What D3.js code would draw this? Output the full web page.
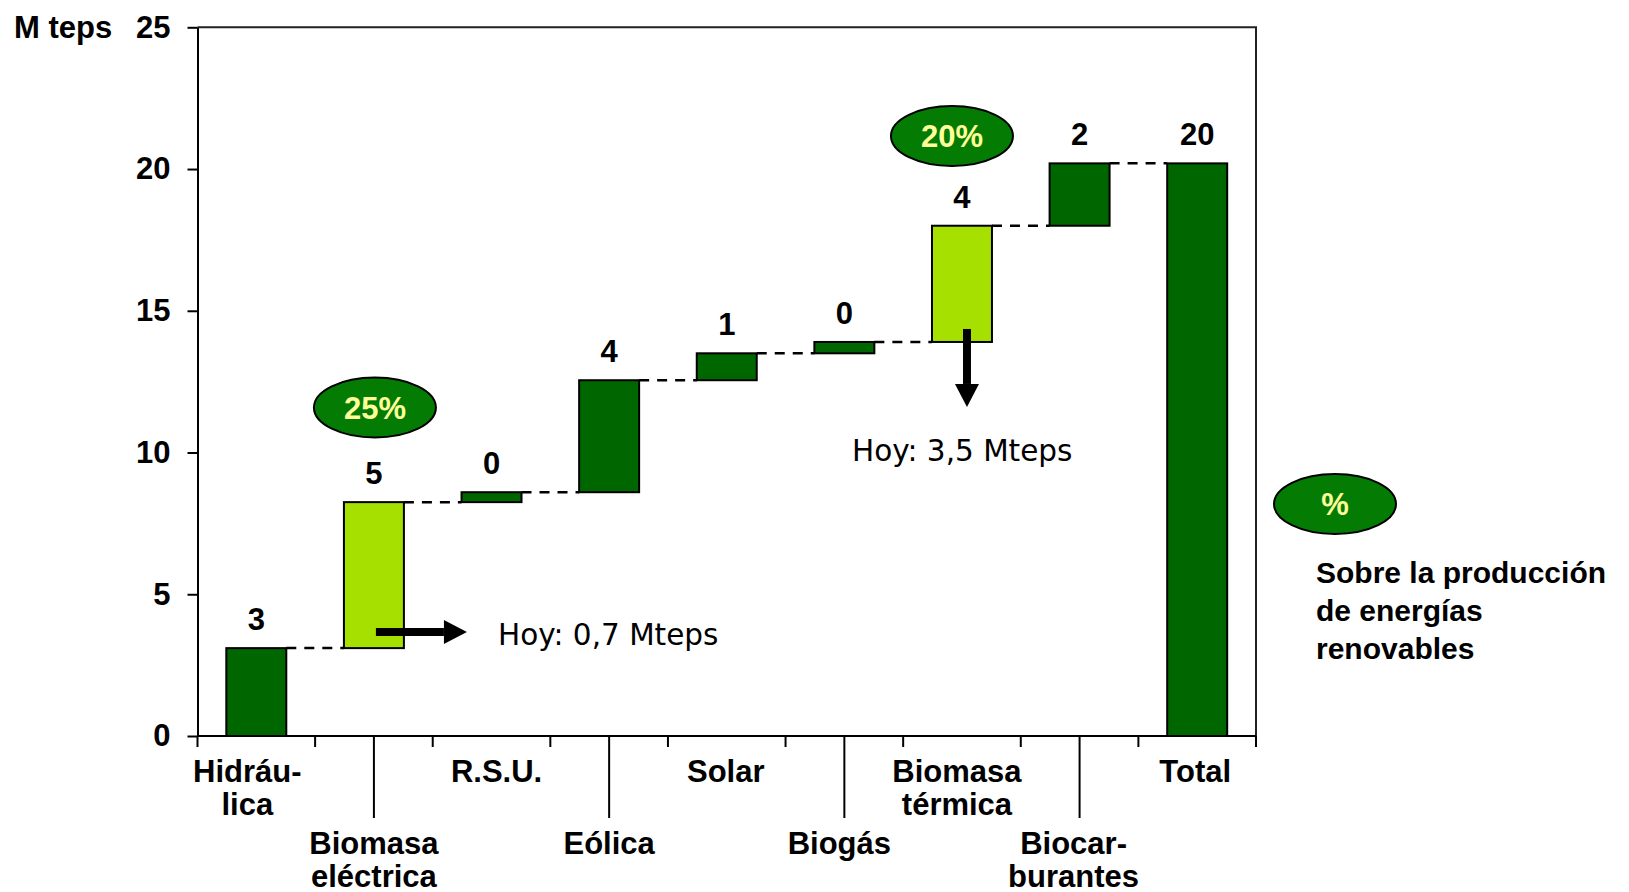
<!DOCTYPE html>
<html>
<head>
<meta charset="utf-8">
<script src="https://cdn.jsdelivr.net/npm/d3@7"></script>
<style>
  body { margin: 0; background: #fff; }
  svg { display: block; }
  .bold { font-family: "Liberation Sans", Arial, sans-serif; font-weight: bold; }
  .note { font-family: "DejaVu Sans", Verdana, sans-serif; }
</style>
</head>
<body>
<script>
// data
var categories = ["Hidráulica", "Biomasa eléctrica", "R.S.U.", "Eólica", "Solar",
                  "Biogás", "Biomasa térmica", "Biocarburantes", "Total"];
var labelLines = [["Hidráu-", "lica"], ["Biomasa", "eléctrica"], ["R.S.U."], ["Eólica"],
                  ["Solar"], ["Biogás"], ["Biomasa", "térmica"], ["Biocar-", "burantes"], ["Total"]];
var increments = [3.1, 5.15, 0.35, 3.95, 0.95, 0.4, 4.1, 2.2];
var valueLabels = ["3", "5", "0", "4", "1", "0", "4", "2", "20"];
var highlighted = ["Biomasa eléctrica", "Biomasa térmica"];
var yTicks = [0, 5, 10, 15, 20, 25];
var shares = ["25%", "20%", "%"];
var todayNotes = ["Hoy: 0,7 Mteps", "Hoy: 3,5 Mteps"];
var shareNote = ["Sobre la producción", "de energías", "renovables"];

// note: "top" is taken by window.top, so plot edges get a prefix
var width = 1629, height = 892,
    plotLeft = 197.5, plotRight = 1256, plotTop = 27.3, plotBottom = 736;

var svg = d3.select("body").append("svg")
    .attr("width", width)
    .attr("height", height);

// waterfall steps
var steps = [];
var run = 0;
increments.forEach(function(v, i) {
    steps.push({cat: categories[i], y0: run, y1: run + v});
    run += v;
});
steps.push({cat: categories[categories.length - 1], y0: 0, y1: run});

var x = d3.scaleBand().domain(categories).range([plotLeft, plotRight])
    .paddingInner(0.49).paddingOuter(0.245);
var y = d3.scaleLinear().domain([0, 25]).range([plotBottom, plotTop]);
var cx = function(c) { return x(c) + x.bandwidth() / 2; };

// frame (top and right)
svg.append("path")
    .attr("d", "M" + plotLeft + "," + y(25) + " H" + plotRight + " V" + y(0))
    .attr("fill", "none").attr("stroke", "#222").attr("stroke-width", 2);

// y axis
var yAxis = svg.append("g")
    .attr("transform", "translate(" + plotLeft + ",0)")
    .call(d3.axisLeft(y).tickValues(yTicks).tickSize(10).tickPadding(17).tickSizeOuter(0));
yAxis.select(".domain").attr("stroke", "#000").attr("stroke-width", 2);
yAxis.selectAll(".tick line").attr("stroke", "#000").attr("stroke-width", 2);
yAxis.selectAll(".tick text")
    .attr("class", "bold")
    .style("font-size", "31px")
    .attr("fill", "#000");

svg.append("text")
    .attr("class", "bold")
    .attr("x", 14).attr("y", y(25))
    .attr("dy", "0.36em")
    .style("font-size", "31px")
    .text("M teps");

// x axis line and ticks
svg.append("line")
    .attr("x1", plotLeft).attr("x2", plotRight)
    .attr("y1", y(0)).attr("y2", y(0))
    .attr("stroke", "#000").attr("stroke-width", 2);

svg.append("g").selectAll("line")
    .data(d3.range(categories.length + 1))
    .enter().append("line")
    .attr("x1", (i) => x.range()[0] + i * x.step())
    .attr("x2", (i) => x.range()[0] + i * x.step())
    .attr("y1", y(0)).attr("y2", y(0) + 11)
    .attr("stroke", "#000").attr("stroke-width", 2);

svg.append("g").selectAll("line")
    .data(categories.filter((c, i) => i % 2 == 1))
    .enter().append("line")
    .attr("x1", (c) => cx(c)).attr("x2", (c) => cx(c))
    .attr("y1", y(0)).attr("y2", y(0) + 82)
    .attr("stroke", "#000").attr("stroke-width", 2);

// category labels, alternating rows; small hand nudges as in the slide
var nudge = [-9, 0, 5, 0, -1, -5, -5, -6, -2];
var labels = svg.append("g").selectAll("text")
    .data(categories)
    .enter().append("text")
    .attr("class", "bold")
    .attr("text-anchor", "middle")
    .style("font-size", "31px")
    .attr("x", (c, i) => cx(c) + nudge[i])
    .attr("y", (c, i) => i % 2 == 0 ? 782 : 854);
labels.each(function(c, i) {
    var t = d3.select(this);
    labelLines[i].forEach(function(line, j) {
        t.append("tspan")
            .attr("x", t.attr("x"))
            .attr("dy", j == 0 ? 0 : 33)
            .text(line);
    });
});

// dashed connectors
svg.append("g").selectAll("line")
    .data(steps.slice(0, -1))
    .enter().append("line")
    .attr("x1", (d) => x(d.cat) + x.bandwidth())
    .attr("x2", (d, i) => x(steps[i + 1].cat))
    .attr("y1", (d) => y(d.y1))
    .attr("y2", (d) => y(d.y1))
    .attr("stroke", "#000").attr("stroke-width", 2.5)
    .attr("stroke-dasharray", "10,8");

// bars
svg.append("g").selectAll("rect")
    .data(steps)
    .enter().append("rect")
    .attr("x", (d) => x(d.cat))
    .attr("width", x.bandwidth())
    .attr("y", (d) => y(d.y1))
    .attr("height", (d) => y(d.y0) - y(d.y1))
    .attr("fill", (d) => highlighted.indexOf(d.cat) >= 0 ? "#a6e000" : "#006600")
    .attr("stroke", "#000").attr("stroke-width", 2);

// value labels
svg.append("g").selectAll("text")
    .data(steps)
    .enter().append("text")
    .attr("class", "bold")
    .attr("text-anchor", "middle")
    .style("font-size", "31px")
    .attr("x", (d) => cx(d.cat))
    .attr("y", (d) => y(d.y1) - 18)
    .text((d, i) => valueLabels[i]);

// arrows with "Hoy" notes
function arrow(x1, y1, x2, y2) {
    var a = Math.atan2(y2 - y1, x2 - x1), len = 23, hw = 12;
    var bx = x2 - len * Math.cos(a), by = y2 - len * Math.sin(a);
    svg.append("line")
        .attr("x1", x1).attr("y1", y1).attr("x2", bx).attr("y2", by)
        .attr("stroke", "#000").attr("stroke-width", 8);
    svg.append("path")
        .attr("d", "M" + x2 + "," + y2 +
              " L" + (bx + hw * Math.sin(a)) + "," + (by - hw * Math.cos(a)) +
              " L" + (bx - hw * Math.sin(a)) + "," + (by + hw * Math.cos(a)) + " Z")
        .attr("fill", "#000");
}

var bioEl = steps[1], bioTerm = steps[6];
arrow(cx(bioEl.cat) + 2, 632, cx(bioEl.cat) + 93, 632);
arrow(cx(bioTerm.cat) + 5, y(bioTerm.y0) - 13, cx(bioTerm.cat) + 5, y(bioTerm.y0) + 65);

svg.append("text").attr("class", "note")
    .style("font-size", "29.5px")
    .attr("x", 498).attr("y", 645)
    .text(todayNotes[0]);
svg.append("text").attr("class", "note")
    .style("font-size", "29.5px")
    .attr("x", 852).attr("y", 461)
    .text(todayNotes[1]);

// share ellipses
var ellipses = [
    {x: cx(bioEl.cat) + 1, y: 407.5},
    {x: cx(bioTerm.cat) - 10, y: 136},
    {x: 1335, y: 504}
];
var eg = svg.append("g").selectAll("g")
    .data(ellipses)
    .enter().append("g")
    .attr("transform", (d) => "translate(" + d.x + "," + d.y + ")");
eg.append("ellipse")
    .attr("rx", 61).attr("ry", 30)
    .attr("fill", "#047c04")
    .attr("stroke", "#000").attr("stroke-width", 2);
eg.append("text")
    .attr("class", "bold")
    .attr("text-anchor", "middle")
    .attr("dy", "0.36em")
    .style("font-size", "31px")
    .attr("fill", "#ffff99")
    .text((d, i) => shares[i]);

svg.append("g").selectAll("text")
    .data(shareNote)
    .enter().append("text")
    .attr("class", "bold")
    .style("font-size", "30px")
    .attr("x", 1316)
    .attr("y", (d, i) => 583 + i * 38)
    .text((d) => d);
</script>
</body>
</html>
